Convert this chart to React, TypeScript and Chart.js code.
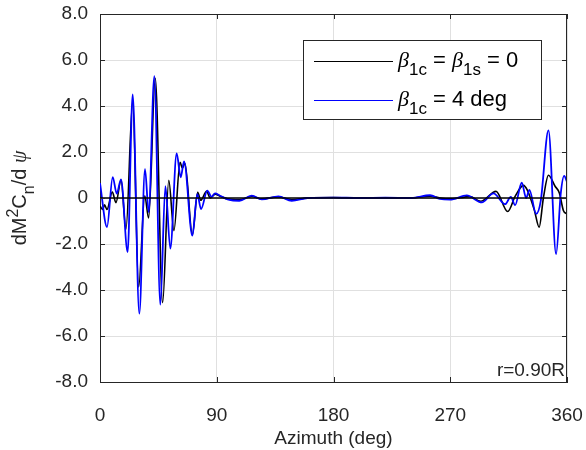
import React, { useEffect, useRef } from "react";
import { Chart, registerables } from "chart.js";

Chart.register(...registerables);

// ---------- data ----------
const xTickValues = [0, 90, 180, 270, 360];
const yTickValues = [-8, -6, -4, -2, 0, 2, 4, 6, 8];

// beta_1c = beta_1s = 0 (black)
const baseAz = [0, 2, 3.5, 5.4, 9.5, 12.3, 16.2, 20, 25.2, 29.8, 34.5, 37.5, 42.6, 48.3, 53, 57, 61.7, 63.5, 65.5, 71.2, 75.3, 77.6, 82.2, 85, 88.7, 92.5, 99, 107.4, 117, 124.7, 137.5, 147.8, 160, 180, 200, 220, 240, 254.4, 262, 270, 285, 293.5, 305.3, 314.3, 320, 326.4, 329.5, 334.9, 338.5, 341.8, 345.7, 350.8, 354.1, 357.2, 360];
const baseVal = [-0.35, -0.5, -0.3, -0.5, 0.26, -0.2, 0.77, -1.36, 4.17, -3.87, 0.1, -0.87, 5.2, -4.55, 0.77, -1.42, 1.55, 1.3, 1.5, -1.6, 0.25, -0.1, 0.29, 0, 0.17, 0.08, -0.05, -0.08, 0.07, -0.04, 0.05, -0.08, 0, 0.02, 0, 0.01, 0, 0.08, 0, -0.04, 0.06, -0.14, 0.29, -0.59, 0.07, 0.55, 0.33, -0.54, -1.27, 0, 0.99, 0.51, 0.22, -0.54, -0.7];

// beta_1c = 4 deg (blue)
const tiltAz = [0, 5.4, 9.8, 12.9, 16.2, 21.3, 25.2, 30.3, 34.7, 37.5, 41.9, 46.5, 50.4, 54.2, 59.1, 62.2, 64.8, 71.2, 75, 77.9, 82.7, 86, 88.7, 92.5, 99, 107.4, 117, 124.7, 137.5, 147.8, 160, 180, 200, 220, 240, 254.4, 262, 269.8, 282.7, 294.3, 303.3, 312.3, 316.7, 320, 325.1, 328.5, 331, 336.2, 339.8, 345.7, 351.6, 355.2, 357.8, 360];
const tiltVal = [0.65, -1.26, 0.91, 0.19, 0.81, -2.35, 4.5, -5.03, 1.25, -0.61, 5.3, -4.64, 0.52, -2.2, 1.94, 0.9, 1.59, -1.64, 0.17, -0.48, 0.32, 0.05, 0.2, 0.1, -0.07, -0.12, 0.1, -0.06, 0.07, -0.12, 0, 0.02, 0, 0.01, 0, 0.12, -0.04, -0.07, 0.11, -0.19, 0.2, -0.27, 0.05, -0.31, 0.67, 0, 0.35, -0.69, -0.11, 2.94, -2.44, 0.2, 0.96, 0.7];

const xTitle = "Azimuth (deg)";
const radiusLabel = "r=0.90R";

type Seg = { t: string; k?: "sub" | "sup" | "sym" };
const legendRows: { color: string; segs: Seg[] }[] = [
  { color: "#000000", segs: [{ t: "β", k: "sym" }, { t: "1c", k: "sub" }, { t: " = " }, { t: "β", k: "sym" }, { t: "1s", k: "sub" }, { t: " = 0" }] },
  { color: "#0000ff", segs: [{ t: "β", k: "sym" }, { t: "1c", k: "sub" }, { t: " = 4 deg" }] },
];
const yTitleSegs: Seg[] = [{ t: "dM" }, { t: "2", k: "sup" }, { t: "C" }, { t: "n", k: "sub" }, { t: "/d " }, { t: "ψ", k: "sym" }];

// ---------- style ----------
const FONT = '"Liberation Sans", Arial, Helvetica, sans-serif';
const SYM = '"Liberation Serif", "DejaVu Serif", serif';
const INK = "#262626";
const GRID = "#e0e0e0";
const W = 586;
const H = 450;

function segFont(s: Seg, size: number) {
  if (s.k === "sub" || s.k === "sup") return `${Math.round(size * 0.78)}px ${FONT}`;
  if (s.k === "sym") return `italic ${size}px ${SYM}`;
  return `${size}px ${FONT}`;
}
function segDy(s: Seg, size: number) {
  if (s.k === "sub") return size * 0.38;
  if (s.k === "sup") return -size * 0.42;
  return 0;
}
function measureRich(ctx: CanvasRenderingContext2D, segs: Seg[], size: number) {
  let w = 0;
  for (const s of segs) {
    ctx.font = segFont(s, size);
    w += ctx.measureText(s.t).width;
  }
  return w;
}
function drawRich(ctx: CanvasRenderingContext2D, segs: Seg[], x: number, y: number, size: number) {
  let cx = x;
  ctx.textAlign = "left";
  ctx.textBaseline = "alphabetic";
  for (const s of segs) {
    ctx.font = segFont(s, size);
    ctx.fillText(s.t, cx, y + segDy(s, size));
    cx += ctx.measureText(s.t).width;
  }
}

const framePlugin = {
  id: "frame",
  afterDraw(chart: any) {
    const { ctx, chartArea: a, scales } = chart;
    const xs = scales.x;
    const ys = scales.y;
    ctx.save();
    // box
    ctx.strokeStyle = INK;
    ctx.lineWidth = 1;
    ctx.beginPath();
    ctx.moveTo(a.left, a.top + 0.5);
    ctx.lineTo(a.right, a.top + 0.5);
    ctx.moveTo(a.right - 0.5, a.top);
    ctx.lineTo(a.right - 0.5, a.bottom);
    ctx.stroke();
    // inward ticks
    const tl = 5;
    ctx.beginPath();
    for (const v of yTickValues) {
      const py = Math.round(ys.getPixelForValue(v)) + 0.5;
      ctx.moveTo(a.left, py);
      ctx.lineTo(a.left + tl, py);
      ctx.moveTo(a.right, py);
      ctx.lineTo(a.right - tl, py);
    }
    for (const v of xTickValues) {
      const px = Math.round(xs.getPixelForValue(v)) + 0.5;
      ctx.moveTo(px, a.bottom);
      ctx.lineTo(px, a.bottom - tl);
      ctx.moveTo(px, a.top);
      ctx.lineTo(px, a.top + tl);
    }
    ctx.stroke();

    // radius label
    ctx.fillStyle = INK;
    ctx.font = `19px ${FONT}`;
    ctx.textAlign = "right";
    ctx.textBaseline = "alphabetic";
    ctx.fillText(radiusLabel, a.right - 2, a.bottom - 6);

    // legend
    const lx = 303, ly = 40, lw = 238, lh = 79;
    ctx.fillStyle = "#ffffff";
    ctx.fillRect(lx, ly, lw, lh);
    ctx.strokeStyle = INK;
    ctx.lineWidth = 1;
    ctx.strokeRect(lx + 0.5, ly + 0.5, lw, lh);
    const rowY = [61, 100];
    legendRows.forEach((r, i) => {
      ctx.strokeStyle = r.color;
      ctx.lineWidth = 1.2;
      ctx.beginPath();
      ctx.moveTo(314, rowY[i] + 0.5);
      ctx.lineTo(393, rowY[i] + 0.5);
      ctx.stroke();
      ctx.fillStyle = "#000000";
      drawRich(ctx, r.segs, 398, rowY[i] + 6, 22);
    });

    // y title
    ctx.fillStyle = INK;
    const w = measureRich(ctx, yTitleSegs, 20);
    ctx.translate(26, (a.top + a.bottom) / 2);
    ctx.rotate(-Math.PI / 2);
    drawRich(ctx, yTitleSegs, -w / 2, 0, 20);
    ctx.restore();
  },
};

export default function App() {
  const ref = useRef<HTMLCanvasElement | null>(null);
  useEffect(() => {
    document.body.style.margin = "0";
    document.documentElement.style.overflow = "hidden";
    if (!ref.current) return;
    const chart = new Chart(ref.current, {
      type: "line",
      data: {
        datasets: [
          {
            label: "zero",
            data: [{ x: 0, y: 0 }, { x: 360, y: 0 }],
            borderColor: "#000000",
            borderWidth: 1.5,
            pointRadius: 0,
          },
          {
            label: "beta1c = 4 deg",
            data: tiltAz.map((x, i) => ({ x, y: tiltVal[i] })),
            borderColor: "#0000ff",
            borderWidth: 1.8,
            pointRadius: 0,
            cubicInterpolationMode: "monotone",
          },
          {
            label: "beta1c = beta1s = 0",
            data: baseAz.map((x, i) => ({ x, y: baseVal[i] })),
            borderColor: "#000000",
            borderWidth: 1.6,
            pointRadius: 0,
            cubicInterpolationMode: "monotone",
          },
        ],
      },
      options: {
        animation: false,
        responsive: false,
        devicePixelRatio: 1,
        layout: { padding: { left: 0, right: 19, top: 14, bottom: 0 } },
        plugins: { legend: { display: false }, tooltip: { enabled: false } },
        scales: {
          x: {
            type: "linear",
            min: 0,
            max: 360,
            afterBuildTicks: (s: any) => {
              s.ticks = xTickValues.map((v) => ({ value: v }));
            },
            afterFit: (s: any) => {
              s.height = 68;
              s.paddingLeft = 0;
              s.paddingRight = 0;
            },
            ticks: { color: INK, font: { family: FONT, size: 19 }, padding: 22, maxRotation: 0 },
            grid: { color: GRID, drawTicks: false },
            border: { color: INK, width: 1 },
            title: { display: true, text: xTitle, color: INK, font: { family: FONT, size: 19, lineHeight: 1 }, padding: { top: 0, bottom: 2 } },
          },
          y: {
            type: "linear",
            min: -8,
            max: 8,
            afterBuildTicks: (s: any) => {
              s.ticks = yTickValues.map((v) => ({ value: v }));
            },
            afterFit: (s: any) => {
              s.width = 100;
              s.paddingTop = 0;
              s.paddingBottom = 0;
            },
            ticks: {
              color: INK,
              font: { family: FONT, size: 19 },
              padding: 12,
              callback: (v: any) => (Number(v) === 0 ? "0" : Number(v).toFixed(1)),
            },
            grid: { color: GRID, drawTicks: false },
            border: { color: INK, width: 1 },
          },
        },
      },
      plugins: [framePlugin],
    } as any);
    return () => chart.destroy();
  }, []);
  return (
    <div style={{ width: W, height: H }}>
      <canvas ref={ref} width={W} height={H} style={{ display: "block" }} />
    </div>
  );
}
